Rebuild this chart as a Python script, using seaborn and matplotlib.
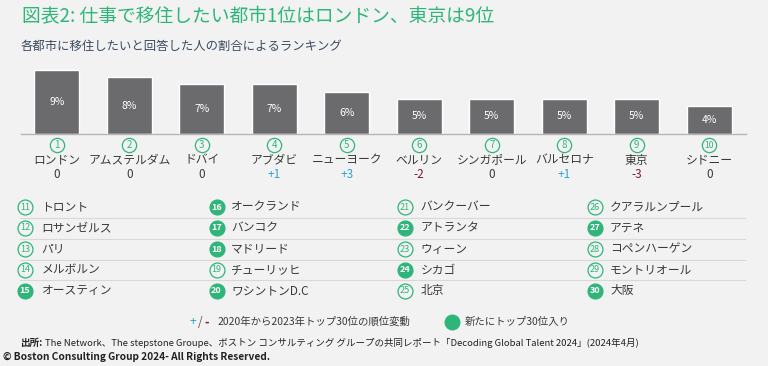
import matplotlib
matplotlib.use('Agg')
import matplotlib.pyplot as plt
import matplotlib.transforms as mtransforms
import seaborn as sns

sns.set_style('white')
plt.rcParams['font.family'] = ['Noto Sans CJK JP', 'DejaVu Sans']

# data
top_cities = ['ロンドン', 'アムステルダム', 'ドバイ', 'アブダビ', 'ニューヨーク',
              'ベルリン', 'シンガポール', 'バルセロナ', '東京', 'シドニー']
top_share = [9, 8, 7, 7, 6, 5, 5, 5, 5, 4]
top_change = ['0', '0', '0', '+1', '+3', '-2', '0', '+1', '-3', '0']

rest_cities = ['トロント', 'ロサンゼルス', 'パリ', 'メルボルン', 'オースティン',
               'オークランド', 'バンコク', 'マドリード', 'チューリッヒ', 'ワシントンD.C',
               'バンクーバー', 'アトランタ', 'ウィーン', 'シカゴ', '北京',
               'クアラルンプール', 'アテネ', 'コペンハーゲン', 'モントリオール', '大阪']
new_entries = [15, 16, 17, 18, 20, 22, 24, 27, 30]

GREEN = '#2fb57a'
BAR = '#6b6b6e'
BG = '#f2f2f2'
TXT = '#3a3a3a'
BLUE = '#2ea3d5'
RED = '#7a1a33'

fig = plt.figure(figsize=(7.68, 3.66), dpi=100, facecolor=BG)
W, H = 768, 366

# bar chart axes
ax = fig.add_axes([20.5 / W, (H - 134) / H, 725 / W, 70.8 / H])
ax.set_facecolor('none')
sns.barplot(x=top_cities, y=top_share, color=BAR, width=0.62, saturation=1, ax=ax)
ax.set_ylim(0, 10)
ax.set_xlim(-0.5, 9.5)
for s in ['top', 'right', 'left']:
    ax.spines[s].set_visible(False)
ax.spines['bottom'].set_color('#b5b5b5')
ax.spines['bottom'].set_linewidth(1)
ax.set_xticks([])
ax.set_yticks([])
ax.set_xlabel('')
ax.set_ylabel('')
ax.bar_label(ax.containers[0], labels=[f'{v}%' for v in top_share],
             label_type='center', color='white', fontsize=7.5)

blend = mtransforms.blended_transform_factory(ax.transData, fig.transFigure)
xs = list(range(len(top_cities)))
ax.scatter(xs, [(H - 145) / H] * len(xs), s=105, facecolor=BG, edgecolor=GREEN,
           linewidth=0.9, transform=blend, clip_on=False, zorder=5)
for i, (c, ch) in enumerate(zip(top_cities, top_change)):
    ax.text(i, (H - 145) / H, str(i + 1), transform=blend, ha='center', va='center',
            color=GREEN, fontsize=7 if i < 9 else 6.2, zorder=6)
    ax.text(i, (H - 160) / H, c, transform=blend, ha='center', va='center',
            color=TXT, fontsize=8.5)
    col = BLUE if ch.startswith('+') else (RED if ch.startswith('-') else TXT)
    ax.text(i, (H - 175) / H, ch, transform=blend, ha='center', va='center',
            color=col, fontsize=8.5)

# overlay in pixel coordinates for text and list
ov = fig.add_axes([0, 0, 1, 1])
ov.set_xlim(0, W)
ov.set_ylim(H, 0)
ov.axis('off')
ov.patch.set_alpha(0)

ov.text(22, 17, '図表2: 仕事で移住したい都市1位はロンドン、東京は9位',
        color=GREEN, fontsize=13.5, va='center', ha='left')
ov.text(21, 46, '各都市に移住したいと回答した人の割合によるランキング',
        color='#3b4a5e', fontsize=8.9, va='center', ha='left')

# ranks 11-30 list
col_circle = [25, 216.5, 405, 595]
col_text = [41.5, 231, 420.5, 610]
row_y = [207, 228, 249, 270, 290.5]
for yl in [217.5, 238.5, 259.5, 280]:
    ov.plot([20, 745], [yl, yl], color='#d8d8d8', lw=0.8)
for k, name in enumerate(rest_cities):
    rank = k + 11
    c, r = divmod(k, 5)
    filled = rank in new_entries
    ov.scatter([col_circle[c]], [row_y[r]], s=115,
               facecolor=GREEN if filled else BG, edgecolor=GREEN, linewidth=0.9, zorder=5)
    ov.text(col_circle[c], row_y[r], str(rank), ha='center', va='center',
            color='white' if filled else GREEN, fontsize=6.5,
            fontweight='bold' if filled else 'normal', zorder=6)
    ov.text(col_text[c], row_y[r], name, ha='left', va='center', color=TXT, fontsize=8.5)

# legend
ov.text(193, 322, '+', color=BLUE, fontsize=8.5, ha='center', va='center')
ov.text(200, 322, '/', color='#555555', fontsize=8.5, ha='center', va='center')
ov.text(207, 322, '-', color=RED, fontsize=8.5, ha='center', va='center', fontweight='bold')
ov.text(218, 322, '2020年から2023年トップ30位の順位変動', color=TXT, fontsize=7.5,
        ha='left', va='center')
ov.scatter([452], [322], s=110, color=GREEN)
ov.text(465, 322, '新たにトップ30位入り', color=TXT, fontsize=7.5, ha='left', va='center')

# source
ov.text(20, 343, '出所:', color='#222222', fontsize=6.9, fontweight='bold', ha='left', va='center')
ov.text(45, 343, 'The Network、The stepstone Groupe、ボストン コンサルティング グループの共同レポート'
        '「Decoding Global Talent 2024」(2024年4月)', color='#222222', fontsize=6.8,
        ha='left', va='center')
ov.text(3, 357, '© Boston Consulting Group 2024- All Rights Reserved.', color='#222222',
        fontsize=7.3, fontweight='bold', ha='left', va='center')

fig.savefig('out.png', dpi=100, facecolor=BG)
